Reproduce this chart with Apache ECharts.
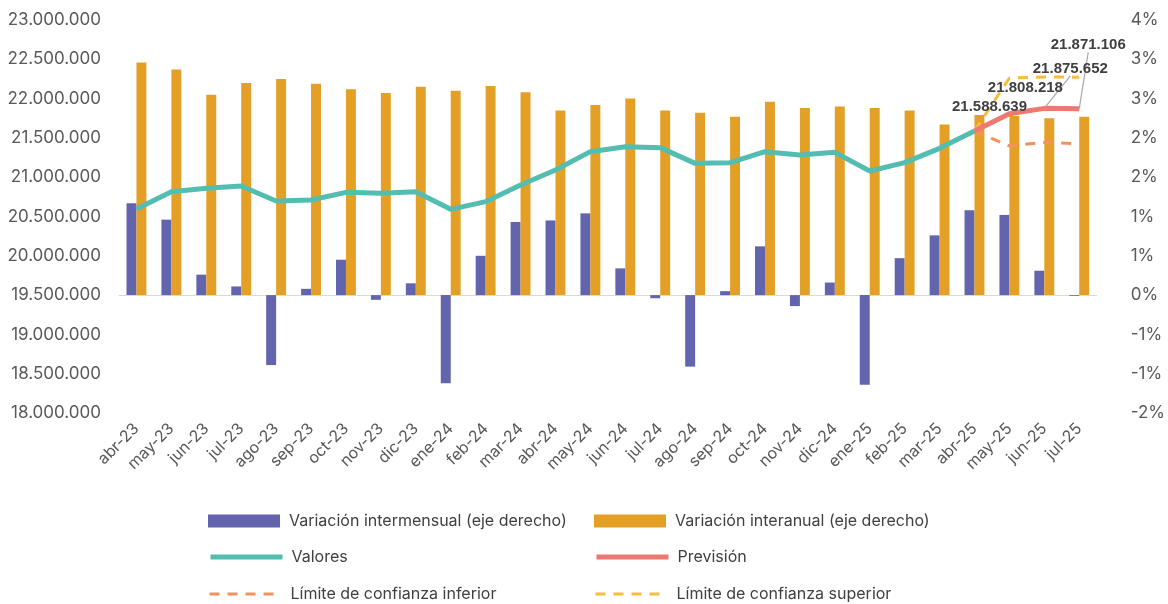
<html>
<head>
<meta http-equiv="Content-Type" content="text/html; charset=utf-8" />
<script src="https://cdn.jsdelivr.net/npm/echarts@6/dist/echarts.min.js"></script>
<style>body{margin:0;background:#fff;}</style>
</head>
<body>
<div id="main" style="width:1168px;height:604px;"></div>
<script type="text/javascript">
// meses
var meses = ['abr-23','may-23','jun-23','jul-23','ago-23','sep-23','oct-23','nov-23','dic-23',
  'ene-24','feb-24','mar-24','abr-24','may-24','jun-24','jul-24','ago-24','sep-24','oct-24','nov-24','dic-24',
  'ene-25','feb-25','mar-25','abr-25','may-25','jun-25','jul-25'];

// variaciones en % (eje derecho)
var intermensual = [1.17,0.96,0.26,0.11,-0.89,0.08,0.45,-0.06,0.15,-1.12,0.50,0.93,0.95,
  1.04,0.34,-0.04,-0.91,0.05,0.62,-0.14,0.16,-1.14,0.47,0.76,1.08,1.02,0.31,-0.01];
var interanual = [2.96,2.87,2.55,2.70,2.75,2.69,2.62,2.57,2.65,2.60,2.66,2.58,2.35,
  2.42,2.50,2.35,2.32,2.27,2.46,2.38,2.40,2.38,2.35,2.17,2.29,2.28,2.25,2.27];

// valores (eje izquierdo)
var valores = [20595000,20816000,20858000,20888000,20697000,20710000,20807000,20795000,20816000,
  20591000,20689000,20901000,21092000,21325000,21388000,21376000,21176000,21185000,21325000,
  21282000,21316000,21079000,21185000,21367000,21588639,null,null,null];
var prevision = [null,null,null,null,null,null,null,null,null,null,null,null,null,null,null,null,
  null,null,null,null,null,null,null,null,21588639,21808218,21875652,21871106];
var limInferior = [null,null,null,null,null,null,null,null,null,null,null,null,null,null,null,null,
  null,null,null,null,null,null,null,null,21588639,21397000,21444000,21426000];
var limSuperior = [null,null,null,null,null,null,null,null,null,null,null,null,null,null,null,null,
  null,null,null,null,null,null,null,null,21588639,22262000,22275000,22272000];

var FONT = 'Inter';
function miles(v) {
  return String(Math.round(v)).replace(/\B(?=(\d{3})+(?!\d))/g, '.');
}
function pct(v) {
  var r = Math.sign(v) * Math.round(Math.abs(v) + 1e-9);
  return (r === 0 ? 0 : r) + '%';
}

// desplazamiento de las etiquetas de previsión
var labelShift = {24: [15, -11], 25: [16, -13], 26: [26, -27], 27: [9, -51]};

var myChart = echarts.init(document.getElementById('main'));

function leyenda(name, left, top, h, esLinea) {
  var l = {
    data: [name], left: left, top: top, orient: 'horizontal',
    itemWidth: 72, itemHeight: h, itemGap: 0, padding: 0,
    textStyle: {fontFamily: FONT, fontSize: 16, color: '#404040', padding: [0, 0, 0, 4]},
    selectedMode: false
  };
  if (esLinea) {
    l.itemStyle = {opacity: 0};
    l.lineStyle = {width: 'inherit'};
  } else {
    l.icon = 'rect';
  }
  return l;
}

myChart.setOption({
  animation: false,
  backgroundColor: '#fff',
  textStyle: {fontFamily: FONT},
  grid: {left: 119, right: 69, top: 20, bottom: 191},
  legend: [
    leyenda('Variación intermensual (eje derecho)', 208, 513, 13, false),
    leyenda('Variación interanual (eje derecho)', 594, 513, 13, false),
    leyenda('Valores', 208, 549, 18, true),
    leyenda('Previsión', 594, 549, 18, true),
    leyenda('Límite de confianza inferior', 208, 586, 18, true),
    leyenda('Límite de confianza superior', 594, 586, 18, true)
  ],
  xAxis: {
    type: 'category',
    data: meses,
    axisLine: {show: true, lineStyle: {color: '#d9d9d9'}},
    axisTick: {show: false},
    axisLabel: {rotate: 45, interval: 0, fontSize: 16, color: '#595959', margin: 13, fontFamily: FONT}
  },
  yAxis: [{
    type: 'value', min: 18000000, max: 23000000, interval: 500000,
    splitLine: {show: false},
    axisLine: {show: false}, axisTick: {show: false},
    axisLabel: {fontSize: 17, color: '#595959', margin: 18, fontFamily: FONT, formatter: miles}
  }, {
    type: 'value', min: -1.5, max: 3.5, interval: 0.5, position: 'right',
    splitLine: {show: false},
    axisLine: {show: false}, axisTick: {show: false},
    axisLabel: {fontSize: 17, color: '#595959', margin: 34, fontFamily: FONT, formatter: pct}
  }],
  series: [{
    name: 'Variación intermensual (eje derecho)',
    type: 'bar', yAxisIndex: 1, data: intermensual,
    barGap: '0%', barCategoryGap: '43%',
    itemStyle: {color: '#6265ae'}
  }, {
    name: 'Variación interanual (eje derecho)',
    type: 'bar', yAxisIndex: 1, data: interanual,
    barGap: '0%', barCategoryGap: '43%',
    itemStyle: {color: '#e49f26'}
  }, {
    name: 'Valores',
    type: 'line', data: valores, symbol: 'none', z: 5,
    lineStyle: {color: '#52bdb0', width: 5},
    itemStyle: {color: '#52bdb0'}
  }, {
    name: 'Límite de confianza inferior',
    type: 'line', data: limInferior, symbol: 'none', z: 4,
    lineStyle: {color: '#f4925f', width: 3, type: [10, 8]},
    itemStyle: {color: '#f4925f'}
  }, {
    name: 'Límite de confianza superior',
    type: 'line', data: limSuperior, symbol: 'none', z: 4,
    lineStyle: {color: '#f7bd3c', width: 3, type: [10, 8]},
    itemStyle: {color: '#f7bd3c'}
  }, {
    name: 'Previsión',
    type: 'line', symbol: 'circle', symbolSize: 1, showSymbol: true, z: 6,
    data: prevision.map(function (v, i) {
      return {value: v, labelLine: {show: i >= 26}};
    }),
    lineStyle: {color: '#ec7a70', width: 5},
    itemStyle: {color: '#ec7a70'},
    label: {
      show: true, position: 'top', distance: 5,
      fontFamily: 'Liberation Sans', fontSize: 15, fontWeight: 'bold', color: '#404040',
      formatter: function (p) { return miles(p.value); }
    },
    labelLine: {show: true, lineStyle: {color: '#a6a6a6', width: 1.2}},
    labelLayout: function (p) {
      var s = labelShift[p.dataIndex];
      return s ? {dx: s[0], dy: s[1]} : {};
    }
  }]
});
</script>
</body>
</html>
